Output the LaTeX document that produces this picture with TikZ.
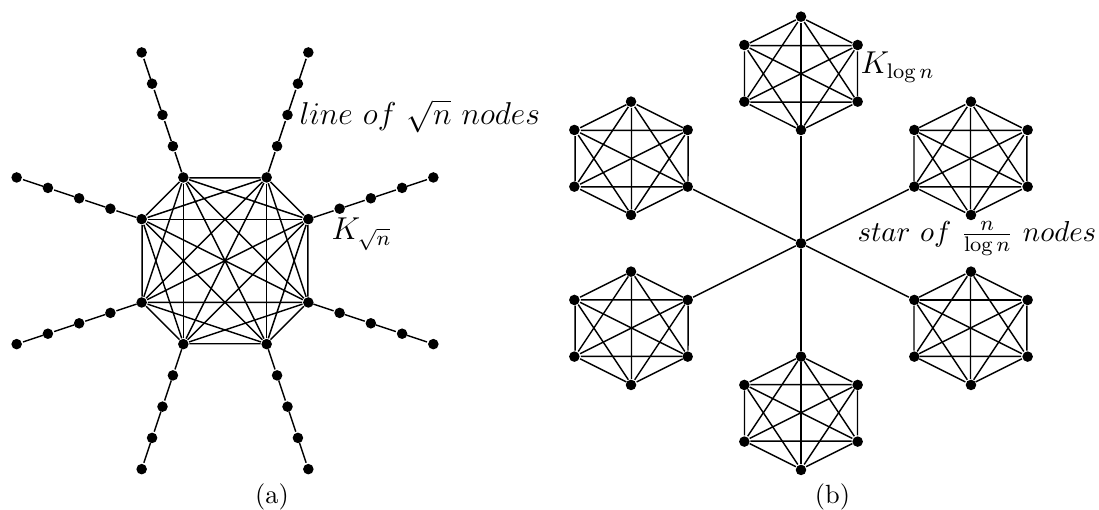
\documentclass[tikz,border=0pt]{standalone}
\usepackage{amsmath}
\usetikzlibrary{positioning, calc}

\begin{document}
\begin{tikzpicture}[
		x=0.01333cm, y=-0.01333cm,
		vertex/.style={circle, fill, inner sep=0pt, minimum size=4pt},
		edge/.style={line width=0.55pt},
		lbl/.style={font=\fontsize{11.8}{14}\selectfont, inner sep=0pt},
		subcap/.style={font=\fontsize{10}{12}\selectfont, inner sep=0pt}
		]
		\useasboundingbox (0,0) rectangle (1099,510);
		
		% (a) clique on the octagon, a line of nodes at every corner
		\begin{scope}[shift={(225,260.8)}, scale=41.67]
			\foreach \i/\px/\py/\dx/\dy in {1/-1/-2/-1/-3, 2/1/-2/1/-3, 3/2/-1/3/-1, 4/2/1/3/1, 5/1/2/1/3, 6/-1/2/-1/3, 7/-2/1/-3/1, 8/-2/-1/-3/-1} {
				\node[vertex] (a\i) at (\px,\py) {};
				\foreach \k in {1,...,4}
					\node[vertex] (a\i-\k) at (\px+\k*\dx/4, \py+\k*\dy/4) {};
				\draw[edge] (a\i) -- (a\i-1) -- (a\i-2) -- (a\i-3) -- (a\i-4);
			}
			\foreach \i in {1,...,7} {
				\pgfmathtruncatemacro{\nxt}{\i+1}
				\foreach \j in {\nxt,...,8}
					\draw[edge] (a\i) -- (a\j);
			}
		\end{scope}
		
		% (b) star, one clique of six at each leaf
		\begin{scope}[shift={(801,243.3)}, scale=28.33]
			\node[vertex] (c) at (0,0) {};
			\foreach \h/\hx/\hy/\t in {1/0/-6/4, 2/6/-3/5, 3/6/3/6, 4/0/6/1, 5/-6/3/2, 6/-6/-3/3} {
				\foreach \v/\vx/\vy in {1/0/-2, 2/2/-1, 3/2/1, 4/0/2, 5/-2/1, 6/-2/-1}
					\node[vertex] (h\h-\v) at (\hx+\vx, \hy+\vy) {};
				\foreach \v in {1,...,5} {
					\pgfmathtruncatemacro{\nxt}{\v+1}
					\foreach \w in {\nxt,...,6}
						\draw[edge] (h\h-\v) -- (h\h-\w);
				}
				\draw[edge] (c) -- (h\h-\t);
			}
		\end{scope}
		
		% Labels
		\node[lbl, anchor=base west] (lineof) at (299,125) {$line\ of\ \sqrt{n}\ nodes$};
		\node[lbl, anchor=base west] (kroot) at (331,239.3) {$K_{\sqrt{n}}$};
		\node[lbl, anchor=base west] (klog) at (860,73.3) {$K_{\log n}$};
		\node[lbl, font=\fontsize{11.1}{13}\selectfont, anchor=base west] (starof) at (857,241.7) {$star\ of\ \frac{n}{\log n}\ nodes$};
		\node[subcap, anchor=base] (capa) at (272,503.5) {(a)};
		\node[subcap, anchor=base] (capb) at (832.5,503.5) {(b)};
		
	\end{tikzpicture}
\end{document}
